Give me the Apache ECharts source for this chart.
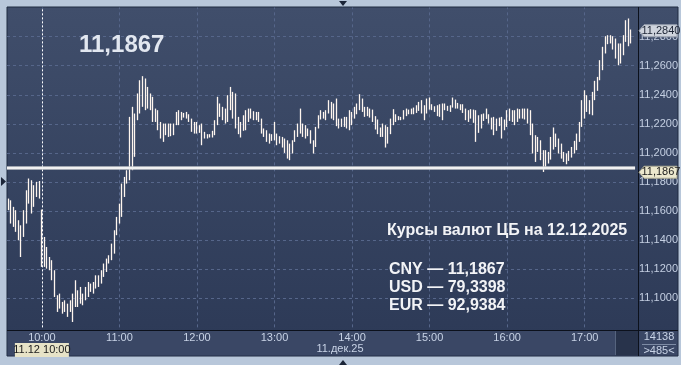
<!DOCTYPE html>
<html><head><meta charset="utf-8">
<script src="https://cdn.jsdelivr.net/npm/echarts@6/dist/echarts.min.js"></script>
<style>html,body{margin:0;padding:0;background:#b8c7da;}#c{width:681px;height:365px;}</style>
</head><body><div id="c"></div>
<script>
// ---- data ----
const startMinute = 574;   // 09:34, first 2-minute candle
const stepMinutes = 2;
const slotCount = 243;
const hourTicks = ['10:00','11:00','12:00','13:00','14:00','15:00','16:00','17:00'];
const yTickLabels = ['11,1000','11,1200','11,1400','11,1600','11,1800','11,2000','11,2200','11,2400','11,2600','11,2800'];

const opens = [
11.1686,11.1674,11.1629,11.1606,11.1537,11.1284,11.1422,11.1514,11.1824,11.1812,
11.1629,11.1697,11.1807,11.1610,11.1422,11.1353,11.1284,11.1262,11.1193,11.0906,
11.1032,11.0894,11.0986,11.0872,11.0906,11.0837,11.1124,11.0940,11.1078,11.0952,
11.0986,11.1112,11.1044,11.1032,11.1158,11.1078,11.1101,11.1147,11.1181,11.1239,
11.1262,11.1307,11.1434,11.1514,11.1560,11.1697,11.1789,11.1812,11.2317,11.1973,
11.2225,11.2271,11.2528,11.2512,11.2454,11.2409,11.2386,11.2305,11.2294,11.2213,
11.2202,11.2202,11.2110,11.2202,11.2122,11.2191,11.2294,11.2282,11.2243,11.2282,
11.2266,11.2236,11.2213,11.2213,11.2138,11.2202,11.2145,11.2129,11.2106,11.2106,
11.2122,11.2386,11.2340,11.2317,11.2202,11.2213,11.2454,11.2420,11.2409,11.2248,
11.2106,11.2152,11.2156,11.2305,11.2305,11.2287,11.2282,11.2282,11.2236,11.2168,
11.2156,11.2133,11.2083,11.2213,11.2133,11.2115,11.2110,11.2099,11.2087,11.1950,
11.1996,11.2076,11.2110,11.2305,11.2202,11.2191,11.2168,11.2156,11.1996,11.2041,
11.2168,11.2294,11.2236,11.2225,11.2363,11.2351,11.2225,11.2374,11.2236,11.2179,
11.2248,11.2168,11.2294,11.2191,11.2236,11.2266,11.2404,11.2374,11.2317,11.2317,
11.2305,11.2298,11.2253,11.2230,11.2110,11.2202,11.2191,11.2064,11.2129,11.2301,
11.2266,11.2253,11.2225,11.2230,11.2305,11.2266,11.2266,11.2266,11.2275,11.2289,
11.2363,11.2225,11.2271,11.2381,11.2335,11.2282,11.2253,11.2248,11.2225,11.2340,
11.2289,11.2282,11.2381,11.2367,11.2344,11.2335,11.2335,11.2305,11.2213,11.2301,
11.2298,11.2294,11.2138,11.2168,11.2220,11.2305,11.2266,11.2161,11.2248,11.2152,
11.2184,11.2248,11.2156,11.2179,11.2305,11.2294,11.2191,11.2305,11.2236,11.2305,
11.2305,11.2305,11.2294,11.2202,11.2122,11.2110,11.2087,11.2019,11.2019,11.1927,
11.1954,11.2175,11.2133,11.2099,11.2064,11.2007,11.1922,11.1945,11.1968,11.1996,
11.2019,11.2076,11.2179,11.2431,11.2397,11.2266,11.2259,11.2363,11.2427,11.2500,
11.2569,11.2684,11.2810,11.2810,11.2803,11.2787,11.2603,11.2615,11.2672,11.2764,
11.2925,11.2790];

const closes = [
11.1606,11.1514,11.1491,11.1457,11.1399,11.1502,11.1606,11.1743,11.1651,11.1583,
11.1778,11.1801,11.1686,11.1216,11.1216,11.1204,11.1193,11.1124,11.1009,11.1021,
11.0929,11.0975,11.0906,11.0963,11.0986,11.1032,11.0940,11.1055,11.0963,11.1032,
11.1078,11.1009,11.1101,11.1112,11.1067,11.1158,11.1193,11.1239,11.1273,11.1296,
11.1376,11.1468,11.1560,11.1651,11.1789,11.1835,11.1881,11.2248,11.1881,11.2271,
11.2409,11.2500,11.2317,11.2294,11.2305,11.2294,11.2213,11.2213,11.2156,11.2099,
11.2076,11.2122,11.2202,11.2115,11.2202,11.2282,11.2191,11.2225,11.2275,11.2236,
11.2213,11.2145,11.2133,11.2133,11.2191,11.2053,11.2099,11.2099,11.2129,11.2152,
11.2225,11.2191,11.2248,11.2225,11.2305,11.2397,11.2294,11.2236,11.2168,11.2129,
11.2213,11.2259,11.2294,11.2213,11.2236,11.2225,11.2225,11.2213,11.2133,11.2110,
11.2076,11.2064,11.2129,11.2087,11.2053,11.2064,11.2037,11.2000,11.1961,11.2064,
11.2087,11.2156,11.2202,11.2133,11.2110,11.2099,11.2115,11.2064,11.2087,11.2179,
11.2259,11.2230,11.2282,11.2294,11.2271,11.2236,11.2340,11.2184,11.2168,11.2236,
11.2179,11.2248,11.2156,11.2282,11.2317,11.2340,11.2294,11.2282,11.2248,11.2253,
11.2243,11.2213,11.2161,11.2129,11.2175,11.2110,11.2037,11.2179,11.2236,11.2191,
11.2213,11.2225,11.2248,11.2294,11.2253,11.2298,11.2305,11.2312,11.2328,11.2351,
11.2271,11.2328,11.2374,11.2298,11.2294,11.2321,11.2328,11.2335,11.2340,11.2294,
11.2324,11.2328,11.2312,11.2305,11.2305,11.2294,11.2275,11.2225,11.2294,11.2236,
11.2207,11.2076,11.2259,11.2266,11.2271,11.2234,11.2202,11.2243,11.2122,11.2236,
11.2243,11.2099,11.2230,11.2294,11.2220,11.2213,11.2294,11.2213,11.2301,11.2236,
11.2230,11.2202,11.2122,11.1996,11.1938,11.2007,11.1950,11.1869,11.1904,11.2007,
11.2110,11.2023,11.2041,11.1996,11.1961,11.1938,11.1996,11.2014,11.2041,11.2083,
11.2133,11.2213,11.2363,11.2236,11.2282,11.2363,11.2420,11.2496,11.2523,11.2638,
11.2730,11.2803,11.2748,11.2753,11.2711,11.2649,11.2753,11.2753,11.2810,11.2913,
11.2734,11.2840];

const lows = [
11.1606,11.1514,11.1491,11.1457,11.1399,11.1284,11.1422,11.1514,11.1651,11.1583,
11.1629,11.1697,11.1686,11.1216,11.1216,11.1204,11.1193,11.1124,11.1009,11.0906,
11.0929,11.0894,11.0906,11.0872,11.0906,11.0837,11.0940,11.0940,11.0963,11.0952,
11.0986,11.1009,11.1044,11.1032,11.1067,11.1078,11.1101,11.1147,11.1181,11.1239,
11.1262,11.1307,11.1434,11.1514,11.1560,11.1697,11.1789,11.1812,11.1881,11.1973,
11.2225,11.2271,11.2317,11.2294,11.2305,11.2294,11.2213,11.2213,11.2156,11.2099,
11.2076,11.2122,11.2110,11.2115,11.2122,11.2191,11.2191,11.2225,11.2243,11.2236,
11.2213,11.2145,11.2133,11.2133,11.2138,11.2053,11.2099,11.2099,11.2106,11.2106,
11.2122,11.2191,11.2248,11.2225,11.2202,11.2213,11.2294,11.2236,11.2168,11.2129,
11.2106,11.2152,11.2156,11.2213,11.2236,11.2225,11.2225,11.2213,11.2133,11.2110,
11.2076,11.2064,11.2083,11.2087,11.2053,11.2064,11.2037,11.2000,11.1961,11.1950,
11.1996,11.2076,11.2110,11.2133,11.2110,11.2099,11.2115,11.2064,11.1996,11.2041,
11.2168,11.2230,11.2236,11.2225,11.2271,11.2236,11.2225,11.2184,11.2168,11.2179,
11.2179,11.2168,11.2156,11.2191,11.2236,11.2266,11.2294,11.2282,11.2248,11.2253,
11.2243,11.2213,11.2161,11.2129,11.2110,11.2110,11.2037,11.2064,11.2129,11.2191,
11.2213,11.2225,11.2225,11.2230,11.2253,11.2266,11.2266,11.2266,11.2275,11.2289,
11.2271,11.2225,11.2271,11.2298,11.2294,11.2282,11.2253,11.2248,11.2225,11.2294,
11.2289,11.2282,11.2312,11.2305,11.2305,11.2294,11.2275,11.2225,11.2213,11.2236,
11.2207,11.2076,11.2138,11.2168,11.2220,11.2234,11.2202,11.2161,11.2122,11.2152,
11.2184,11.2099,11.2156,11.2179,11.2220,11.2213,11.2191,11.2213,11.2236,11.2236,
11.2230,11.2202,11.2122,11.1996,11.1938,11.2007,11.1950,11.1869,11.1904,11.1927,
11.1954,11.2023,11.2041,11.1996,11.1961,11.1938,11.1922,11.1945,11.1968,11.1996,
11.2019,11.2076,11.2179,11.2236,11.2282,11.2266,11.2259,11.2363,11.2427,11.2500,
11.2569,11.2684,11.2748,11.2753,11.2711,11.2649,11.2603,11.2615,11.2672,11.2764,
11.2734,11.2753];

const highs = [
11.1686,11.1674,11.1629,11.1606,11.1537,11.1502,11.1606,11.1743,11.1824,11.1812,
11.1778,11.1801,11.1807,11.1610,11.1422,11.1353,11.1284,11.1262,11.1193,11.1021,
11.1032,11.0975,11.0986,11.0963,11.0986,11.1032,11.1124,11.1055,11.1078,11.1032,
11.1078,11.1112,11.1101,11.1112,11.1158,11.1158,11.1193,11.1239,11.1273,11.1296,
11.1376,11.1468,11.1560,11.1651,11.1789,11.1835,11.1881,11.2248,11.2317,11.2271,
11.2409,11.2500,11.2528,11.2512,11.2454,11.2409,11.2386,11.2305,11.2294,11.2213,
11.2202,11.2202,11.2202,11.2202,11.2202,11.2282,11.2294,11.2282,11.2275,11.2282,
11.2266,11.2236,11.2213,11.2213,11.2191,11.2202,11.2145,11.2129,11.2129,11.2152,
11.2225,11.2386,11.2340,11.2317,11.2305,11.2397,11.2454,11.2420,11.2409,11.2248,
11.2213,11.2259,11.2294,11.2305,11.2305,11.2287,11.2282,11.2282,11.2236,11.2168,
11.2156,11.2133,11.2129,11.2213,11.2133,11.2115,11.2110,11.2099,11.2087,11.2064,
11.2087,11.2156,11.2202,11.2305,11.2202,11.2191,11.2168,11.2156,11.2087,11.2179,
11.2259,11.2294,11.2282,11.2294,11.2363,11.2351,11.2340,11.2374,11.2236,11.2236,
11.2248,11.2248,11.2294,11.2282,11.2317,11.2340,11.2404,11.2374,11.2317,11.2317,
11.2305,11.2298,11.2253,11.2230,11.2175,11.2202,11.2191,11.2179,11.2236,11.2301,
11.2266,11.2253,11.2248,11.2294,11.2305,11.2298,11.2305,11.2312,11.2328,11.2351,
11.2363,11.2328,11.2374,11.2381,11.2335,11.2321,11.2328,11.2335,11.2340,11.2340,
11.2324,11.2328,11.2381,11.2367,11.2344,11.2335,11.2335,11.2305,11.2294,11.2301,
11.2298,11.2294,11.2259,11.2266,11.2271,11.2305,11.2266,11.2243,11.2248,11.2236,
11.2243,11.2248,11.2230,11.2294,11.2305,11.2294,11.2294,11.2305,11.2301,11.2305,
11.2305,11.2305,11.2294,11.2202,11.2122,11.2110,11.2087,11.2019,11.2019,11.2007,
11.2110,11.2175,11.2133,11.2099,11.2064,11.2007,11.1996,11.2014,11.2041,11.2083,
11.2133,11.2213,11.2363,11.2431,11.2397,11.2363,11.2420,11.2496,11.2523,11.2638,
11.2730,11.2803,11.2810,11.2810,11.2803,11.2787,11.2753,11.2753,11.2810,11.2913,
11.2925,11.2849];

const lastValue = 11.2840;
const lastValueLabel = '11,2840';
const cbRate = 11.1867;
const cbRateLabel = '11,1867';
const cbTitle = 'Курсы валют ЦБ на 12.12.2025';
const cbLines = ['CNY — 11,1867', 'USD — 79,3398', 'EUR — 92,9384'];
const cursorTime = '10:00';
const cursorLabel = '11.12 10:00';
const dateLabel = '11.дек.25';
const volumeLabel = '14138';
const zoomLabel = '>485<';

// ---- build ----
const FONT = 'Liberation Sans, Arial, sans-serif';
const categories = [];
for (let i = 0; i < slotCount; i++) {
  const m = startMinute + i * stepMinutes;
  const hh = Math.floor(m / 60), mm = m % 60;
  categories.push((hh < 10 ? '0' : '') + hh + ':' + (mm < 10 ? '0' : '') + mm);
}
const candleData = opens.map((o, i) => [o, closes[i], lows[i], highs[i]]);
const candleColor = '#fff6ef';
const gridColor = '#56668a';

const chart = echarts.init(document.getElementById('c'), null, {renderer: 'canvas'});

function staticGraphics() {
  return [
    {type: 'rect', z: -10, silent: true, shape: {x: 7, y: 7, width: 671, height: 349},
      style: {fill: {type: 'linear', x: 0, y: 0, x2: 0, y2: 1,
        colorStops: [{offset: 0, color: '#404e6b'}, {offset: 1, color: '#2c3956'}]},
        stroke: '#1f2a40', lineWidth: 1}},
    {type: 'rect', z: -9, silent: true, shape: {x: 7.5, y: 330, width: 670, height: 25.5}, style: {fill: '#3a4765'}},
    {type: 'rect', z: -8, silent: true, shape: {x: 616, y: 331, width: 22, height: 24.5}, style: {fill: '#28334b'}},
    {type: 'line', z: -7, silent: true, shape: {x1: 615.5, y1: 331, x2: 615.5, y2: 355}, style: {stroke: '#56647e', lineWidth: 1}},
    {type: 'line', z: 50, silent: true, shape: {x1: 7, y1: 330.5, x2: 678, y2: 330.5}, style: {stroke: '#0c111c', lineWidth: 1}},
    {type: 'line', z: 50, silent: true, shape: {x1: 638.5, y1: 7, x2: 638.5, y2: 356}, style: {stroke: '#0c111c', lineWidth: 1}},
    {type: 'line', z: 50, silent: true, shape: {x1: 642, y1: 344.5, x2: 676, y2: 344.5}, style: {stroke: '#7d8ba4', lineWidth: 1}},
    {type: 'polygon', z: 50, silent: true, shape: {points: [[339, 1], [347, 1], [343, 6]]}, style: {fill: '#1b2538'}},
    {type: 'polygon', z: 50, silent: true, shape: {points: [[339, 365], [347, 365], [343, 360]]}, style: {fill: '#1b2538'}},
    {type: 'polygon', z: 50, silent: true, shape: {points: [[1, 177], [1, 186], [6, 181.5]]}, style: {fill: '#1b2538'}},
    {type: 'text', z: 60, silent: true, style: {x: 79, y: 45, text: cbRateLabel, fill: '#e2e7f0',
      font: 'bold 24px ' + FONT, verticalAlign: 'middle'}},
    {type: 'text', z: 60, silent: true, style: {x: 387, y: 231, text: cbTitle, fill: '#f2f3f6',
      font: 'bold 16px ' + FONT, verticalAlign: 'middle'}},
    {type: 'text', z: 60, silent: true, style: {x: 389, y: 270, text: cbLines[0], fill: '#f2f3f6',
      font: 'bold 16px ' + FONT, verticalAlign: 'middle'}},
    {type: 'text', z: 60, silent: true, style: {x: 389, y: 288, text: cbLines[1], fill: '#f2f3f6',
      font: 'bold 16px ' + FONT, verticalAlign: 'middle'}},
    {type: 'text', z: 60, silent: true, style: {x: 389, y: 306, text: cbLines[2], fill: '#f2f3f6',
      font: 'bold 16px ' + FONT, verticalAlign: 'middle'}},
    {type: 'text', z: 60, silent: true, style: {x: 340, y: 349, text: dateLabel, fill: '#c8d3e6',
      font: '11px ' + FONT, align: 'center', verticalAlign: 'middle'}},
    {type: 'text', z: 60, silent: true, style: {x: 659, y: 337, text: volumeLabel, fill: '#c8d3e6',
      font: '11px ' + FONT, align: 'center', verticalAlign: 'middle'}},
    {type: 'text', z: 60, silent: true, style: {x: 659, y: 351, text: zoomLabel, fill: '#c8d3e6',
      font: '11px ' + FONT, align: 'center', verticalAlign: 'middle'}}
  ];
}

const option = {
  animation: false,
  backgroundColor: '#b8c7da',
  grid: {left: 7, top: 7.55, width: 631, height: 319.8, containLabel: false},
  xAxis: {
    type: 'category', data: categories, boundaryGap: true,
    axisLine: {show: false}, axisTick: {show: false}, splitLine: {show: false},
    axisLabel: {interval: (i, v) => hourTicks.indexOf(v) >= 0, color: '#c8d3e6', fontSize: 11,
      fontFamily: FONT, margin: 5}
  },
  yAxis: {
    type: 'value', position: 'right', min: 11.08, max: 11.30, interval: 0.02,
    axisLine: {show: false}, axisTick: {show: false},
    axisLabel: {color: '#c4cfe2', fontSize: 11, fontFamily: FONT, margin: 4,
      formatter: v => { const s = v.toFixed(4).replace('.', ','); return yTickLabels.indexOf(s) >= 0 ? s : ''; }},
    splitLine: {show: true, showMinLine: false, showMaxLine: false,
      lineStyle: {color: gridColor, type: [3, 3], width: 1}}
  },
  series: [
    {type: 'line', data: [], silent: true, z: 1,
      markLine: {silent: true, symbol: 'none', z: 1, label: {show: false}, animation: false,
        lineStyle: {color: gridColor, type: [3, 3], width: 1},
        data: hourTicks.map(t => ({xAxis: t}))}},
    {type: 'candlestick', data: candleData, barWidth: 1.2, z: 3, silent: true,
      itemStyle: {color: candleColor, color0: candleColor, borderColor: candleColor,
        borderColor0: candleColor, borderColorDoji: candleColor, borderWidth: 1.3},
      markLine: {silent: true, symbol: 'none', z: 10, label: {show: false}, animation: false,
        data: [
          {xAxis: cursorTime, lineStyle: {color: '#ffffff', type: [2, 2], width: 1}},
          {yAxis: cbRate, lineStyle: {color: '#c6c8cc', type: 'solid', width: 3.5}},
          {yAxis: cbRate, lineStyle: {color: '#ffffff', type: 'solid', width: 1.5}}
        ]}}
  ],
  graphic: staticGraphics()
};
chart.setOption(option);

// value markers on the right axis and the cursor time box, positioned through the chart's scales
const yCb = chart.convertToPixel({yAxisIndex: 0}, cbRate);
const yLast = chart.convertToPixel({yAxisIndex: 0}, lastValue);
const xCursor = chart.convertToPixel({xAxisIndex: 0}, cursorTime);
function marker(y, label, fill, stroke, textFill) {
  return [
    {type: 'polygon', z: 70, silent: true,
      shape: {points: [[639, y], [644, y - 6], [677, y - 6], [677, y + 6], [644, y + 6]]},
      style: {fill: fill, stroke: stroke, lineWidth: 1}},
    {type: 'text', z: 71, silent: true, style: {x: 661, y: y, text: label, fill: textFill,
      font: '11px ' + FONT, align: 'center', verticalAlign: 'middle'}}
  ];
}
const dyn = [].concat(
  marker(yCb, cbRateLabel, '#ece8ce', '#a9a792', '#1a1a1a'),
  marker(yLast, lastValueLabel, '#cfd4dd', '#9aa2b0', '#1c2434'),
  [{type: 'rect', z: 70, silent: true, shape: {x: xCursor - 27, y: 343, width: 54, height: 14},
     style: {fill: '#e7e3c7'}},
   {type: 'text', z: 71, silent: true, style: {x: xCursor, y: 350, text: cursorLabel, fill: '#1a1a1a',
     font: '11px ' + FONT, align: 'center', verticalAlign: 'middle'}}]
);
chart.setOption({graphic: staticGraphics().concat(dyn)}, {replaceMerge: ['graphic']});
</script>
</body></html>
